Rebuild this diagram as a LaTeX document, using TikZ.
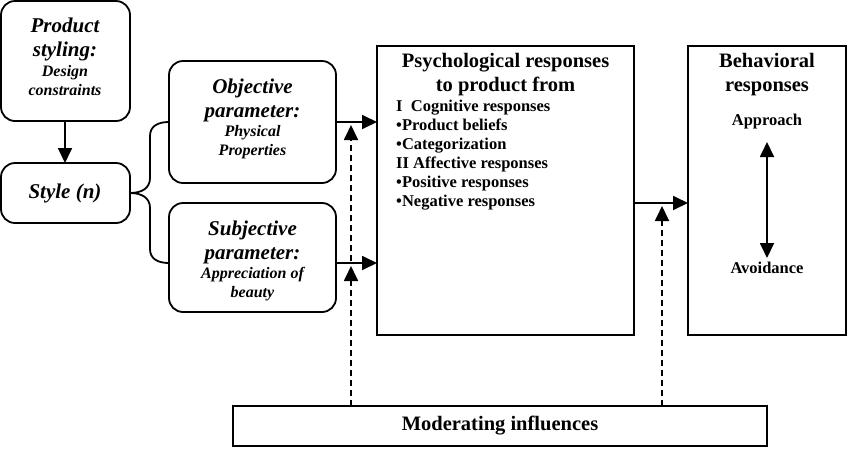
\documentclass[tikz,border=0pt]{standalone}
\usepackage{fontspec}
\setmainfont{Liberation Serif}
\usetikzlibrary{arrows.meta}
\begin{document}
\begin{tikzpicture}[x=1pt,y=-1pt,
  every path/.style={line width=1.8pt},
  rbox/.style={draw, rounded corners=14pt, inner sep=0pt},
  sbox/.style={draw, inner sep=0pt},
  big/.style={font=\fontsize{21}{24}\selectfont\bfseries\itshape, align=center},
  small/.style={font=\fontsize{16}{19}\selectfont\bfseries\itshape, align=center},
  head/.style={font=\fontsize{20.5}{24}\selectfont\bfseries, align=center},
  item/.style={font=\fontsize{16.5}{19}\selectfont\bfseries, align=left},
  tip/.style={-{Triangle[length=15pt,width=14pt]}},
  dtip/.style={{Triangle[length=15pt,width=14pt]}-{Triangle[length=15pt,width=14pt]}},
  modline/.style={dash pattern=on 6pt off 4pt}
]
\useasboundingbox (0,0) rectangle (850,448);
% boxes
\draw[rbox] (1,1) rectangle (130,121);
\coordinate (psb) at (65,121);
\node[big] (pst) at (65,39) {Product\\styling:};
\node[small] (psd) at (65,81) {Design\\constraints};

\draw[rbox] (1,163) rectangle (130,223);
\coordinate (stt) at (65,163);
\coordinate (str) at (130,193);
\node[big] (sty) at (65,193) {Style (n)};

\draw[rbox] (169,61) rectangle (336,183);
\coordinate (obl) at (169,122);
\coordinate (obr) at (336,122);
\node[big] (obt) at (252.5,100) {Objective\\parameter:};
\node[small] (obs) at (252.5,142) {Physical\\Properties};

\draw[rbox] (169,203) rectangle (336,312);
\coordinate (sbl) at (169,263);
\coordinate (sbr) at (336,263);
\node[big] (sbt) at (252.5,242) {Subjective\\parameter:};
\node[small] (sbs) at (252.5,284) {Appreciation of\\beauty};

\draw[sbox] (377,46) rectangle (634,335);
\coordinate (psyl1) at (377,122);
\coordinate (psyl2) at (377,263);
\coordinate (psyr) at (634,203);
\node[head] (psyh) at (505.5,75) {Psychological responses\\to product from};
\node[item, anchor=north west] (psyi) at (392,96) {I\ \ Cognitive responses\\•Product beliefs\\•Categorization\\II Affective responses\\•Positive responses\\•Negative responses};

\draw[sbox] (688,46) rectangle (846,335);
\coordinate (bhl) at (688,203);
\node[head] (bhh) at (767,75) {Behavioral\\responses};
\node[item] (appr) at (767,122) {Approach};
\node[item] (avoi) at (767,268) {Avoidance};

\draw[sbox] (233,406) rectangle (767,446);
\node[head] (mod) at (500,426) {Moderating influences};
\coordinate (m1) at (351,406);
\coordinate (m2) at (662,406);

% connectors
\draw[tip] (psb) -- (stt);
\draw (str) .. controls (142,193) and (150,188) .. (150,178) -- (150,136) .. controls (150,126) and (158,122) .. (obl);
\draw (str) .. controls (142,193) and (150,198) .. (150,208) -- (150,249) .. controls (150,259) and (158,263) .. (sbl);
\draw[tip] (obr) -- (psyl1);
\draw[tip] (sbr) -- (psyl2);
\draw[tip] (psyr) -- (bhl);
\draw[dtip] (appr.south |- 0,142) -- (appr.south |- 0,258);
\draw[tip, modline] (m1) -- (351,266);
\draw[tip, modline] (351,261) -- (351,125);
\draw[tip, modline] (m2) -- (662,206);
\end{tikzpicture}
\end{document}
